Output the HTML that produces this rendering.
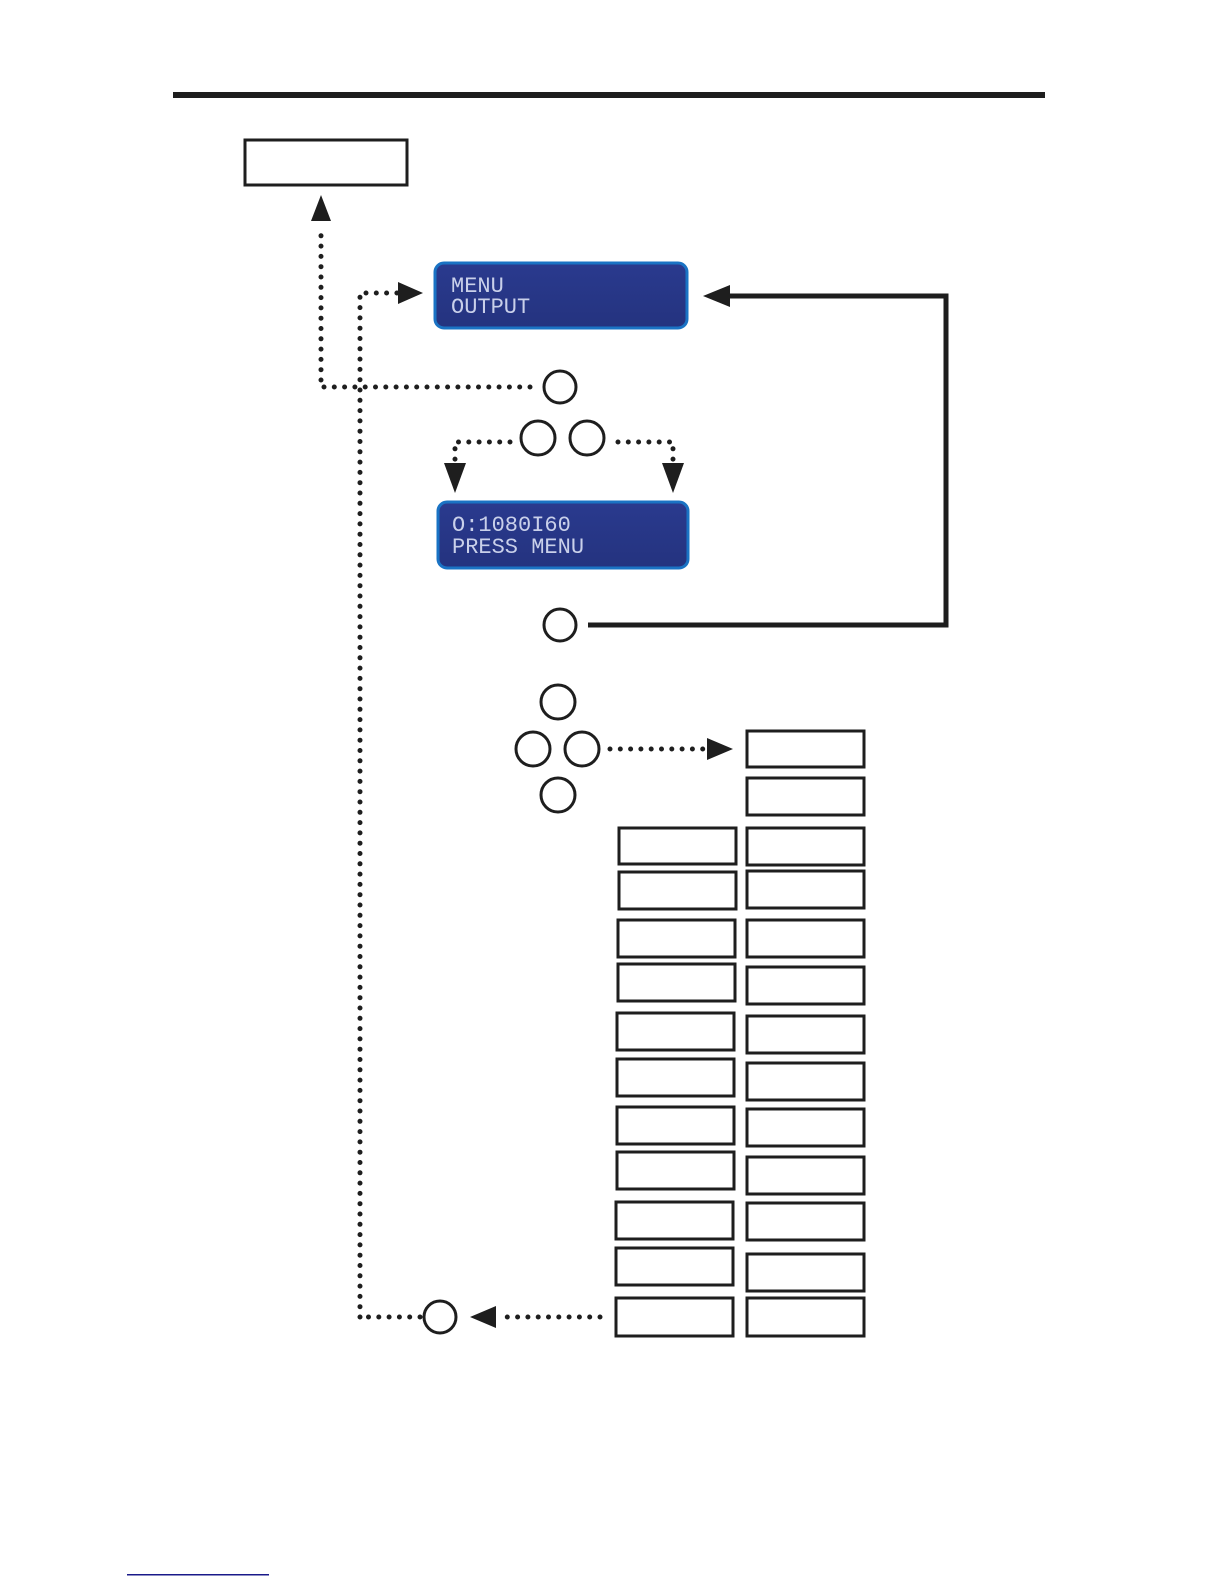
<!DOCTYPE html>
<html><head><meta charset="utf-8"><style>
html,body{margin:0;padding:0;background:#fff;}
svg{display:block}
</style></head><body>
<svg width="1224" height="1584" viewBox="0 0 1224 1584" xmlns="http://www.w3.org/2000/svg">
<defs>
<linearGradient id="lcd" x1="0" y1="0" x2="0" y2="1">
<stop offset="0" stop-color="#2a3a8e"/><stop offset="1" stop-color="#24337f"/>
</linearGradient>
</defs>
<rect x="173" y="92" width="872" height="6" fill="#1e1e1e"/>
<rect x="245" y="140" width="162" height="45" fill="#fff" stroke="#1e1e1e" stroke-width="3"/>

<g fill="none" stroke="#1e1e1e" stroke-width="5" stroke-linecap="round" stroke-dasharray="0 10.3">
<path d="M321 380 V228"/>
<path d="M530 387 H321 V380"/>
<path d="M360 1317 V293 H400"/>
<path d="M510 442 H455 V462"/>
<path d="M618 442 H673 V462"/>
<path d="M610 749 H712"/>
<path d="M600 1317 H498"/>
<path d="M420 1317 H360"/>
</g>
<g fill="#1e1e1e">
<polygon points="321,195 311,221 331,221"/>
<polygon points="423,293 398,282 398,304"/>
<polygon points="455,493 444,463 466,463"/>
<polygon points="673,493 662,463 684,463"/>
<polygon points="733,749 707,738 707,760"/>
<polygon points="470,1317 496,1306 496,1328"/>
<polygon points="703,296 730,285 730,307"/>
</g>
<path d="M588 625 H946 V296 H725" fill="none" stroke="#1e1e1e" stroke-width="5"/>

<g fill="#fff" stroke="#1e1e1e" stroke-width="3">
<circle cx="560" cy="387" r="16"/>
<circle cx="538" cy="438" r="17"/>
<circle cx="587" cy="438" r="17"/>
<circle cx="560" cy="625" r="16"/>
<circle cx="558" cy="702" r="17"/>
<circle cx="533" cy="749" r="17"/>
<circle cx="582" cy="749" r="17"/>
<circle cx="558" cy="795" r="17"/>
<circle cx="440" cy="1317" r="16"/>
</g>

<rect x="435" y="263" width="252" height="65" rx="9" fill="url(#lcd)" stroke="#1a73c4" stroke-width="3"/>
<rect x="438" y="502" width="250" height="66" rx="9" fill="url(#lcd)" stroke="#1a73c4" stroke-width="3"/>
<g font-family="Liberation Mono, monospace" font-size="22" fill="#c9d0ea">
<text x="451" y="292">MENU</text>
<text x="451" y="313">OUTPUT</text>
<text x="452" y="531">O:1080I60</text>
<text x="452" y="553">PRESS MENU</text>
</g>

<g fill="#fff" stroke="#1e1e1e" stroke-width="3">
<rect x="747" y="731" width="117" height="36"/>
<rect x="747" y="778" width="117" height="37"/>
<rect x="747" y="828" width="117" height="37"/>
<rect x="747" y="871" width="117" height="37"/>
<rect x="747" y="920" width="117" height="37"/>
<rect x="747" y="967" width="117" height="37"/>
<rect x="747" y="1016" width="117" height="37"/>
<rect x="747" y="1063" width="117" height="37"/>
<rect x="747" y="1109" width="117" height="37"/>
<rect x="747" y="1157" width="117" height="37"/>
<rect x="747" y="1203" width="117" height="37"/>
<rect x="747" y="1254" width="117" height="37"/>
<rect x="747" y="1298" width="117" height="38"/>

<rect x="619" y="828" width="117" height="36"/>
<rect x="619" y="872" width="117" height="37"/>
<rect x="618" y="920" width="117" height="37"/>
<rect x="618" y="964" width="117" height="37"/>
<rect x="617" y="1013" width="117" height="37"/>
<rect x="617" y="1059" width="117" height="37"/>
<rect x="617" y="1107" width="117" height="37"/>
<rect x="617" y="1152" width="117" height="37"/>
<rect x="616" y="1202" width="117" height="37"/>
<rect x="616" y="1248" width="117" height="37"/>
<rect x="616" y="1298" width="117" height="38"/>
</g>
<rect x="127" y="1574" width="142" height="1.5" fill="#1a1a8a"/>
</svg>
</body></html>
